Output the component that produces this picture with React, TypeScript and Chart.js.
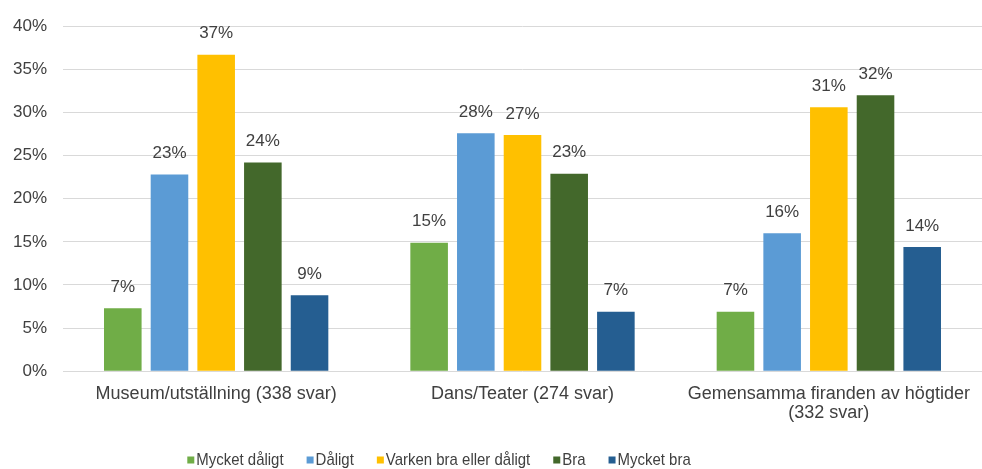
import React, { useEffect, useRef } from "react";
import { Chart, registerables } from "chart.js";

Chart.register(...registerables);

// Survey categories (multi-line labels are arrays)
const categories: string[][] = [
  ["Museum/utställning (338 svar)"],
  ["Dans/Teater (274 svar)"],
  ["Gemensamma firanden av högtider", "(332 svar)"],
];

const seriesNames = ["Mycket dåligt", "Dåligt", "Varken bra eller dåligt", "Bra", "Mycket bra"];

// Share of answers, percent
const mycketDaligt = [7.3, 14.9, 6.9];
const daligt = [22.8, 27.6, 16.0];
const varkenBraEllerDaligt = [36.7, 27.4, 30.6];
const bra = [24.2, 22.9, 32.0];
const mycketBra = [8.8, 6.9, 14.4];

const seriesColors = ["#70AD47", "#5B9BD5", "#FFC000", "#43682B", "#255E91"];

const FONT = '"Liberation Sans", Arial, sans-serif';
const TEXT = "#404040";

const valueLabels = {
  id: "valueLabels",
  afterDatasetsDraw(chart: any) {
    const ctx: CanvasRenderingContext2D = chart.ctx;
    ctx.save();
    ctx.font = `17px ${FONT}`;
    ctx.fillStyle = TEXT;
    ctx.textAlign = "center";
    ctx.textBaseline = "middle";
    chart.data.datasets.forEach((ds: any, i: number) => {
      const meta = chart.getDatasetMeta(i);
      meta.data.forEach((bar: any, j: number) => {
        const v = ds.data[j] as number;
        ctx.fillText(`${Math.round(v)}%`, bar.x, bar.y - 21);
      });
    });
    ctx.restore();
  },
};

// Legend row beneath the category labels, in a slightly condensed face
const bottomLegend = {
  id: "bottomLegend",
  afterDraw(chart: any) {
    const ctx: CanvasRenderingContext2D = chart.ctx;
    const box = 7;
    const textOffset = 9;
    const gap = 23;
    const squeeze = 0.88;
    ctx.save();
    ctx.font = `17px ${FONT}`;
    const items = chart.data.datasets.map((ds: any) => ({
      label: ds.label as string,
      color: ds.backgroundColor as string,
      w: ctx.measureText(ds.label).width * squeeze,
    }));
    const total =
      items.reduce((s: number, it: any) => s + textOffset + it.w, 0) + gap * (items.length - 1);
    let x = 439 - total / 2;
    const y = chart.height - 9;
    ctx.textBaseline = "middle";
    ctx.textAlign = "left";
    items.forEach((it: any) => {
      ctx.fillStyle = it.color;
      ctx.fillRect(x, y - box / 2, box, box);
      ctx.save();
      ctx.translate(x + textOffset, y);
      ctx.scale(squeeze, 1);
      ctx.fillStyle = TEXT;
      ctx.fillText(it.label, 0, 0);
      ctx.restore();
      x += textOffset + it.w + gap;
    });
    ctx.restore();
  },
};

export default function App() {
  const ref = useRef<HTMLCanvasElement>(null);

  useEffect(() => {
    if (!ref.current) return;
    const values = [mycketDaligt, daligt, varkenBraEllerDaligt, bra, mycketBra];
    const chart = new Chart(ref.current, {
      type: "bar",
      data: {
        labels: categories as any,
        datasets: seriesNames.map((name, i) => ({
          label: name,
          data: values[i],
          backgroundColor: seriesColors[i],
          borderWidth: 0,
          categoryPercentage: 0.762,
          barPercentage: 0.805,
        })),
      },
      options: {
        animation: false,
        responsive: false,
        layout: { padding: { left: 13, right: 0, top: 24, bottom: 42 } },
        plugins: {
          legend: { display: false },
          tooltip: { enabled: false },
        },
        scales: {
          x: {
            grid: { display: false },
            border: { display: false },
            afterFit: (scale: any) => {
              scale.paddingLeft = 0;
              scale.paddingRight = 0;
            },
            ticks: {
              color: TEXT,
              font: { family: FONT, size: 18, lineHeight: 1.05 },
              padding: 5,
              maxRotation: 0,
              autoSkip: false,
            },
          },
          y: {
            min: 0,
            max: 40,
            grid: { color: "#D9D9D9", lineWidth: 1, drawTicks: false },
            border: { display: false },
            afterFit: (scale: any) => {
              scale.width = 50;
            },
            ticks: {
              stepSize: 5,
              color: TEXT,
              font: { family: FONT, size: 17 },
              padding: 16,
              callback: (v: any) => `${v}%`,
            },
          },
        },
      },
      plugins: [valueLabels, bottomLegend],
    });
    return () => chart.destroy();
  }, []);

  return (
    <div style={{ position: "fixed", left: 0, top: 0, width: 982, height: 469, background: "#fff" }}>
      <canvas ref={ref} width={982} height={469} />
    </div>
  );
}
